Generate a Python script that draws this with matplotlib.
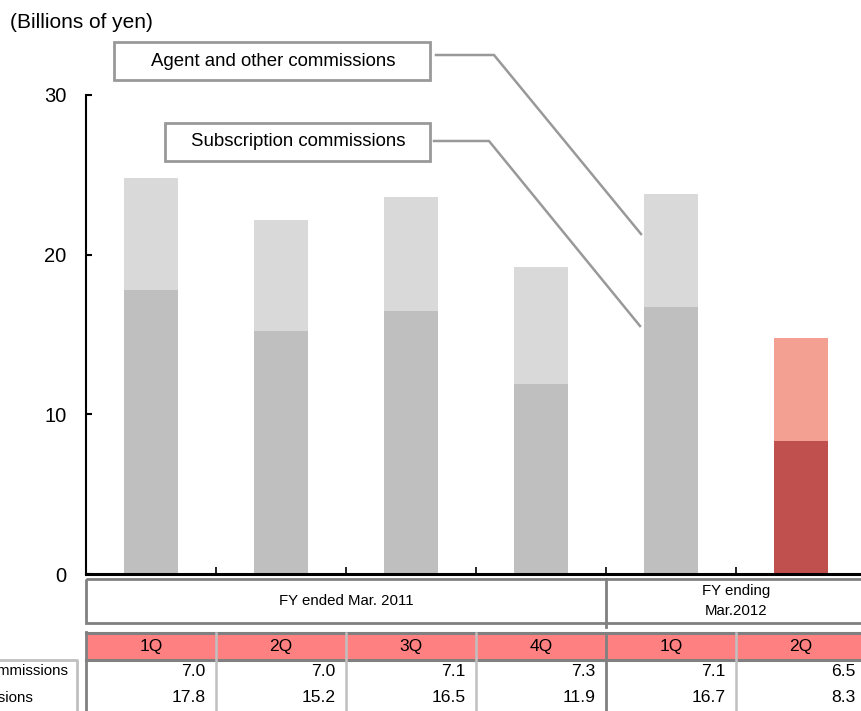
import matplotlib
matplotlib.use("Agg")
import matplotlib.pyplot as plt
from matplotlib.patches import Rectangle
import numpy as np

plt.rcParams['font.family'] = ['Liberation Sans', 'DejaVu Sans']

# ---- data ----
quarters = ["1Q", "2Q", "3Q", "4Q", "1Q", "2Q"]
subscription = [17.8, 15.2, 16.5, 11.9, 16.7, 8.3]
agent_other = [7.0, 7.0, 7.1, 7.3, 7.1, 6.5]
series_names = ["Agent and other commissions", "Subscription commissions"]
fiscal_years = ["FY ended Mar. 2011", "FY ending\nMar.2012"]
fy_spans = [(0, 4), (4, 6)]
yticks = [0, 10, 20, 30]
unit_label = "(Billions of yen)"

W, H = 861, 711
fig = plt.figure(figsize=(W / 100, H / 100), dpi=100)

# main axes geometry (pixels)
ax_l, ax_r, ax_top, ax_bot = 86, 866, 95, 574
ax = fig.add_axes([ax_l / W, (H - ax_bot) / H, (ax_r - ax_l) / W, (ax_bot - ax_top) / H])

x = np.arange(len(quarters))
sub_cols = ['#BFBFBF'] * 5 + ['#C0504D']
ag_cols = ['#D9D9D9'] * 5 + ['#F3A093']
ax.bar(x, subscription, width=0.42, color=sub_cols, zorder=2)
ax.bar(x, agent_other, width=0.42, bottom=subscription, color=ag_cols, zorder=2)

ax.set_xlim(-0.5, len(quarters) - 0.5)
ax.set_ylim(0, 30)
ax.set_yticks(yticks)
ax.set_yticklabels([str(v) for v in yticks], fontsize=14.5)
ax.set_xticks(np.arange(len(quarters)) + 0.5)
ax.set_xticklabels([])
for s in ['top', 'right']:
    ax.spines[s].set_visible(False)
ax.spines['left'].set_linewidth(1.5)
ax.spines['bottom'].set_linewidth(2.2)
ax.spines['bottom'].set_zorder(3)
ax.tick_params(axis='y', direction='in', length=4, width=1.5, pad=14)
ax.tick_params(axis='x', direction='in', length=5, width=1.2)

# ---- table axes (x in data slots, y in pixels from top) ----
axt = fig.add_axes([ax_l / W, 0, (ax_r - ax_l) / W, (H - 575) / H], sharex=ax)
axt.set_ylim(H, 575)
axt.axis('off')
n = len(quarters)
dark = '#808080'
light = '#C0C0C0'

def px2x(px):
    return (px - ax_l) / 130.0 - 0.5

# fiscal year row
axt.add_patch(Rectangle((-0.5, 579), n, 44, fill=False, edgecolor=dark, lw=2, clip_on=False))
for (a, b), lab in zip(fy_spans, fiscal_years):
    axt.text((a + b - 1) / 2, 601, lab, ha='center', va='center', fontsize=10.8,
             linespacing=1.5)
    if a > 0:
        axt.plot([a - 0.5, a - 0.5], [579, 627], color=dark, lw=2, clip_on=False)

# quarter row
axt.add_patch(Rectangle((-0.5, 633), n, 26, facecolor='#FF8080', edgecolor='none', clip_on=False))
axt.plot([-0.5, n - 0.5], [633, 633], color=dark, lw=2.2, clip_on=False)
axt.plot([-0.5, n - 0.5], [659.5, 659.5], color=dark, lw=2.2, clip_on=False)
for i, q in enumerate(quarters):
    axt.text(i, 646, q, ha='center', va='center', fontsize=12.5)
# vertical lines
axt.plot([-0.5, -0.5], [632, H], color=dark, lw=2, clip_on=False)
for i in range(1, n):
    c = dark if i == 4 else light
    axt.plot([i - 0.5, i - 0.5], [633, H], color=c, lw=2 if i == 4 else 1.8, clip_on=False)
# values
for i in range(n):
    axt.text(i + 0.42, 671, f"{agent_other[i]:.1f}", ha='right', va='center', fontsize=12.6)
    axt.text(i + 0.42, 698, f"{subscription[i]:.1f}", ha='right', va='center', fontsize=12.6)
# row label box
axt.plot([px2x(-5), px2x(77), px2x(77)], [659.5, 659.5, H], color=light, lw=2, clip_on=False)
axt.text(px2x(68), 671, series_names[0], ha='right', va='center', fontsize=10.8, clip_on=False)
axt.text(px2x(33), 698, series_names[1], ha='right', va='center', fontsize=10.8, clip_on=False)

# ---- overlay (pixel coords) for title, label boxes and connectors ----
ov = fig.add_axes([0, 0, 1, 1], facecolor='none')
ov.set_xlim(0, W)
ov.set_ylim(H, 0)
ov.axis('off')
ov.text(10, 22, unit_label, ha='left', va='center', fontsize=15)

boxcol = '#999999'
ov.add_patch(Rectangle((114, 42), 316, 38, fill=False, edgecolor=boxcol, lw=2))
ov.text(273, 61, series_names[0], ha='center', va='center', fontsize=13.4)
ov.add_patch(Rectangle((165, 123), 265, 38, fill=False, edgecolor=boxcol, lw=2))
ov.text(298, 142, series_names[1], ha='center', va='center', fontsize=13.4)

ov.plot([436, 494, 641], [55, 55, 234], color=boxcol, lw=1.8)
ov.plot([434, 489, 640], [141, 141, 326], color=boxcol, lw=1.8)

fig.savefig("out.png", dpi=100)
